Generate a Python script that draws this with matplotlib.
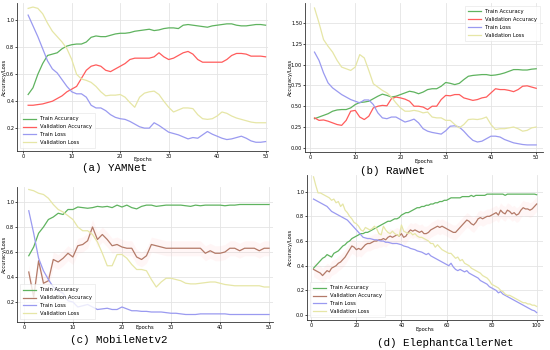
import matplotlib
matplotlib.use("Agg")
import matplotlib.pyplot as plt
import numpy as np

# ---- data ----
epochs50 = np.arange(1, 51)
epochs100 = np.arange(1, 101)

yam_train_acc = [0.45, 0.50, 0.60, 0.68, 0.74, 0.75, 0.76, 0.79, 0.81, 0.82,
                 0.825, 0.825, 0.84, 0.875, 0.885, 0.88, 0.88, 0.89, 0.90, 0.905,
                 0.905, 0.91, 0.92, 0.925, 0.93, 0.935, 0.925, 0.93, 0.94, 0.945,
                 0.945, 0.94, 0.965, 0.97, 0.965, 0.96, 0.955, 0.95, 0.96, 0.965,
                 0.97, 0.975, 0.975, 0.965, 0.96, 0.96, 0.965, 0.97, 0.97, 0.965]
yam_val_acc = [0.37, 0.37, 0.375, 0.38, 0.39, 0.40, 0.42, 0.44, 0.47, 0.49,
               0.51, 0.57, 0.63, 0.66, 0.67, 0.66, 0.63, 0.62, 0.64, 0.66,
               0.68, 0.71, 0.72, 0.72, 0.72, 0.72, 0.73, 0.76, 0.73, 0.71,
               0.72, 0.74, 0.76, 0.77, 0.75, 0.71, 0.69, 0.69, 0.69, 0.69,
               0.69, 0.71, 0.74, 0.755, 0.755, 0.75, 0.735, 0.735, 0.735, 0.73]
yam_train_loss = [1.04, 0.96, 0.88, 0.79, 0.70, 0.64, 0.61, 0.56, 0.51, 0.47,
                  0.455, 0.455, 0.43, 0.37, 0.35, 0.35, 0.33, 0.30, 0.28, 0.27,
                  0.265, 0.25, 0.23, 0.21, 0.20, 0.20, 0.24, 0.22, 0.195, 0.17,
                  0.16, 0.15, 0.135, 0.12, 0.13, 0.125, 0.15, 0.175, 0.155, 0.14,
                  0.125, 0.115, 0.12, 0.13, 0.14, 0.125, 0.105, 0.095, 0.095, 0.10]
yam_val_loss = [1.09, 1.10, 1.09, 1.05, 0.98, 0.92, 0.88, 0.84, 0.79, 0.71,
                0.60, 0.565, 0.555, 0.54, 0.51, 0.47, 0.44, 0.445, 0.445, 0.45,
                0.43, 0.39, 0.355, 0.43, 0.46, 0.47, 0.475, 0.45, 0.40, 0.355,
                0.32, 0.335, 0.35, 0.35, 0.345, 0.30, 0.27, 0.265, 0.27, 0.29,
                0.32, 0.31, 0.29, 0.275, 0.265, 0.255, 0.245, 0.24, 0.24, 0.24]

raw_train_acc = [0.35, 0.37, 0.39, 0.41, 0.44, 0.455, 0.46, 0.46, 0.48, 0.52,
                 0.545, 0.55, 0.56, 0.59, 0.62, 0.645, 0.63, 0.61, 0.62, 0.64,
                 0.66, 0.68, 0.67, 0.65, 0.67, 0.70, 0.71, 0.71, 0.74, 0.785,
                 0.775, 0.76, 0.775, 0.82, 0.86, 0.87, 0.875, 0.88, 0.88, 0.87,
                 0.875, 0.885, 0.90, 0.92, 0.94, 0.94, 0.935, 0.935, 0.945, 0.95]
raw_val_acc = [0.36, 0.33, 0.335, 0.32, 0.30, 0.28, 0.27, 0.33, 0.44, 0.45,
               0.37, 0.34, 0.38, 0.48, 0.50, 0.51, 0.505, 0.59, 0.61, 0.60,
               0.585, 0.56, 0.50, 0.50, 0.49, 0.46, 0.50, 0.50, 0.58, 0.63,
               0.625, 0.64, 0.64, 0.60, 0.585, 0.57, 0.58, 0.60, 0.61, 0.66,
               0.71, 0.70, 0.70, 0.69, 0.675, 0.70, 0.74, 0.745, 0.73, 0.715]
raw_train_loss = [1.15, 1.05, 0.90, 0.78, 0.72, 0.68, 0.64, 0.61, 0.58, 0.56,
                  0.54, 0.575, 0.575, 0.52, 0.42, 0.36, 0.35, 0.37, 0.37, 0.34,
                  0.31, 0.325, 0.345, 0.30, 0.23, 0.20, 0.185, 0.175, 0.165, 0.205,
                  0.26, 0.265, 0.25, 0.20, 0.14, 0.09, 0.07, 0.08, 0.11, 0.14,
                  0.14, 0.13, 0.10, 0.08, 0.06, 0.05, 0.04, 0.035, 0.035, 0.035]
raw_val_loss = [1.68, 1.50, 1.30, 1.22, 1.15, 1.05, 0.97, 0.95, 0.93, 0.97,
                1.12, 1.08, 0.93, 0.77, 0.73, 0.69, 0.66, 0.61, 0.54, 0.48,
                0.44, 0.44, 0.45, 0.44, 0.42, 0.43, 0.37, 0.36, 0.36, 0.33,
                0.33, 0.28, 0.24, 0.28, 0.34, 0.345, 0.34, 0.35, 0.37, 0.28,
                0.22, 0.23, 0.23, 0.24, 0.25, 0.23, 0.20, 0.21, 0.24, 0.25]

mob_train_acc = [0.57, 0.64, 0.75, 0.80, 0.86, 0.88, 0.91, 0.90, 0.94, 0.94,
                 0.96, 0.955, 0.95, 0.955, 0.965, 0.96, 0.965, 0.955, 0.975, 0.96,
                 0.975, 0.955, 0.945, 0.965, 0.975, 0.975, 0.965, 0.97, 0.975, 0.975,
                 0.975, 0.975, 0.97, 0.965, 0.975, 0.97, 0.975, 0.975, 0.975, 0.975,
                 0.97, 0.975, 0.975, 0.98, 0.98, 0.98, 0.98, 0.98, 0.98, 0.98]
mob_val_acc = [0.44, 0.24, 0.53, 0.35, 0.37, 0.54, 0.52, 0.55, 0.59, 0.56,
               0.65, 0.66, 0.69, 0.80, 0.70, 0.74, 0.70, 0.65, 0.66, 0.64,
               0.63, 0.63, 0.56, 0.54, 0.57, 0.66, 0.65, 0.64, 0.63, 0.63,
               0.63, 0.63, 0.63, 0.63, 0.63, 0.63, 0.59, 0.61, 0.59, 0.59,
               0.60, 0.63, 0.63, 0.61, 0.63, 0.63, 0.63, 0.61, 0.63, 0.63]
mob_train_loss = [0.93, 0.75, 0.55, 0.45, 0.38, 0.32, 0.29, 0.27, 0.21, 0.20,
                  0.16, 0.17, 0.18, 0.16, 0.14, 0.145, 0.15, 0.14, 0.14, 0.16,
                  0.145, 0.13, 0.13, 0.125, 0.125, 0.12, 0.12, 0.12, 0.115, 0.11,
                  0.11, 0.105, 0.10, 0.10, 0.10, 0.105, 0.105, 0.105, 0.105, 0.105,
                  0.105, 0.10, 0.10, 0.10, 0.10, 0.10, 0.10, 0.10, 0.10, 0.10]
mob_val_loss = [1.10, 1.09, 1.07, 1.06, 1.03, 0.98, 0.94, 0.92, 0.89, 0.86,
                0.80, 0.77, 0.77, 0.74, 0.68, 0.59, 0.49, 0.49, 0.58, 0.58,
                0.55, 0.50, 0.46, 0.46, 0.45, 0.38, 0.32, 0.36, 0.39, 0.39,
                0.38, 0.37, 0.35, 0.345, 0.345, 0.35, 0.355, 0.36, 0.36, 0.35,
                0.34, 0.335, 0.33, 0.33, 0.33, 0.33, 0.33, 0.33, 0.32, 0.32]

ele_train_acc = [0.38, 0.40, 0.42, 0.44, 0.46, 0.47, 0.49, 0.48, 0.47, 0.50,
                 0.51, 0.52, 0.54, 0.56, 0.57, 0.59, 0.60, 0.62, 0.63, 0.64,
                 0.65, 0.66, 0.66, 0.67, 0.67, 0.68, 0.69, 0.70, 0.71, 0.72,
                 0.73, 0.74, 0.75, 0.76, 0.76, 0.77, 0.78, 0.78, 0.79, 0.81,
                 0.82, 0.83, 0.83, 0.84, 0.85, 0.86, 0.87, 0.87, 0.88, 0.88,
                 0.89, 0.89, 0.90, 0.90, 0.91, 0.91, 0.92, 0.92, 0.93, 0.93,
                 0.94, 0.95, 0.95, 0.95, 0.95, 0.95, 0.96, 0.96, 0.96, 0.96,
                 0.97, 0.96, 0.97, 0.97, 0.97, 0.97, 0.97, 0.98, 0.98, 0.98,
                 0.98, 0.98, 0.98, 0.98, 0.98, 0.97, 0.98, 0.98, 0.98, 0.98,
                 0.98, 0.98, 0.98, 0.98, 0.98, 0.98, 0.98, 0.98, 0.98, 0.975]
ele_val_acc = [0.37, 0.36, 0.35, 0.34, 0.32, 0.34, 0.36, 0.35, 0.38, 0.39,
               0.40, 0.42, 0.43, 0.45, 0.47, 0.50, 0.53, 0.56, 0.55, 0.53,
               0.54, 0.53, 0.55, 0.57, 0.58, 0.58, 0.59, 0.60, 0.60, 0.61,
               0.61, 0.62, 0.61, 0.63, 0.64, 0.63, 0.64, 0.65, 0.64, 0.66,
               0.63, 0.64, 0.67, 0.69, 0.68, 0.69, 0.68, 0.67, 0.68, 0.66,
               0.66, 0.67, 0.69, 0.70, 0.71, 0.72, 0.71, 0.72, 0.71, 0.70,
               0.69, 0.68, 0.67, 0.67, 0.69, 0.71, 0.73, 0.75, 0.77, 0.76,
               0.74, 0.73, 0.75, 0.78, 0.79, 0.78, 0.79, 0.80, 0.80, 0.81,
               0.82, 0.83, 0.81, 0.85, 0.83, 0.82, 0.85, 0.84, 0.82, 0.83,
               0.81, 0.82, 0.85, 0.87, 0.86, 0.86, 0.85, 0.86, 0.88, 0.90]
ele_train_loss = [0.94, 0.93, 0.92, 0.91, 0.90, 0.89, 0.88, 0.86, 0.84, 0.83,
                  0.82, 0.81, 0.80, 0.79, 0.78, 0.77, 0.75, 0.73, 0.71, 0.69,
                  0.67, 0.65, 0.63, 0.625, 0.62, 0.62, 0.615, 0.61, 0.61, 0.605,
                  0.60, 0.60, 0.59, 0.59, 0.585, 0.58, 0.58, 0.58, 0.575, 0.57,
                  0.56, 0.555, 0.55, 0.54, 0.535, 0.53, 0.52, 0.515, 0.51, 0.50,
                  0.49, 0.50, 0.48, 0.47, 0.46, 0.45, 0.44, 0.43, 0.42, 0.41,
                  0.40, 0.42, 0.39, 0.37, 0.36, 0.37, 0.36, 0.35, 0.36, 0.34,
                  0.33, 0.32, 0.31, 0.30, 0.28, 0.27, 0.26, 0.25, 0.23, 0.22,
                  0.21, 0.20, 0.18, 0.19, 0.17, 0.16, 0.15, 0.14, 0.13, 0.12,
                  0.11, 0.10, 0.09, 0.08, 0.07, 0.06, 0.05, 0.04, 0.035, 0.02]
ele_val_loss = [1.12, 1.05, 0.99, 0.99, 0.98, 0.97, 0.96, 0.95, 0.93, 0.94,
                0.91, 0.92, 0.88, 0.90, 0.85, 0.83, 0.80, 0.78, 0.75, 0.74,
                0.72, 0.69, 0.68, 0.71, 0.70, 0.69, 0.70, 0.72, 0.70, 0.66,
                0.65, 0.72, 0.69, 0.67, 0.66, 0.68, 0.66, 0.65, 0.64, 0.73,
                0.68, 0.67, 0.66, 0.67, 0.65, 0.66, 0.64, 0.63, 0.63, 0.62,
                0.61, 0.60, 0.58, 0.58, 0.55, 0.57, 0.55, 0.53, 0.52, 0.51,
                0.50, 0.50, 0.48, 0.46, 0.47, 0.44, 0.45, 0.42, 0.41, 0.40,
                0.38, 0.37, 0.36, 0.35, 0.34, 0.32, 0.31, 0.30, 0.28, 0.25,
                0.24, 0.23, 0.22, 0.20, 0.19, 0.17, 0.16, 0.16, 0.15, 0.14,
                0.13, 0.12, 0.11, 0.10, 0.10, 0.09, 0.09, 0.08, 0.08, 0.07]

labels = ["Train Accuracy", "Validation Accuracy", "Train Loss", "Validation Loss"]

W, H = 550, 350
fig = plt.figure(figsize=(5.5, 3.5), dpi=100)

def px_axes(l, t, r, b):
    return fig.add_axes([l / W, 1 - b / H, (r - l) / W, (b - t) / H])

def panel(box, x, series, colors, xlim, ylim, yticks, xticks, legend_loc,
          caption, cap_xy, xlab_y, ylab_x):
    l, t, r, b = box
    ax = px_axes(*box)
    for s, c, lab in zip(series, colors, labels):
        ax.plot(x, s, color=c, lw=0.9, label=lab)
    ax.set_xlim(*xlim)
    ax.set_ylim(*ylim)
    ax.set_yticks(yticks)
    ax.set_xticks(xticks)
    ax.grid(True, color="#e4e4e4", lw=0.6)
    ax.set_axisbelow(True)
    for side in ["top", "right"]:
        ax.spines[side].set_visible(False)
    for side in ["left", "bottom"]:
        ax.spines[side].set_color("#333333")
        ax.spines[side].set_linewidth(0.6)
    ax.tick_params(labelsize=3.6, length=1.2, width=0.5, pad=0.8)
    ax.set_xlabel("Epochs", fontsize=3.8, va="center")
    ax.set_ylabel("Accuracy/Loss", fontsize=3.8, va="center")
    # place axis labels at the pixel spots seen in the figure
    ax.xaxis.set_label_coords(0.5, -(xlab_y - b) / (b - t))
    ax.yaxis.set_label_coords(-(l - ylab_x) / (r - l), 0.5)
    leg = ax.legend(loc=legend_loc, fontsize=3.8, handlelength=2.5,
                    labelspacing=0.55, borderpad=0.6, frameon=True, fancybox=False)
    leg.get_frame().set_linewidth(0.4)
    leg.get_frame().set_edgecolor("#dddddd")
    fig.text(cap_xy[0] / W, 1 - cap_xy[1] / H, caption, family="Liberation Mono",
             fontsize=7.8, ha="center", va="center")
    return ax

c_green = "#5fb35f"
c_red = "#ff5c5c"
c_blue = "#9a9af0"
c_yellow = "#e6e6a6"
c_brown = "#b37a68"

panel((17, 3, 268, 151), epochs50,
      [yam_train_acc, yam_val_acc, yam_train_loss, yam_val_loss],
      [c_green, c_red, c_blue, c_yellow],
      (-1.3, 50.5), (0.03, 1.13), [0.2, 0.4, 0.6, 0.8, 1.0], [0, 10, 20, 30, 40, 50],
      "lower left", "(a) YAMNet", (115, 168), 159, 4)

panel((305, 3, 543, 152), epochs50,
      [raw_train_acc, raw_val_acc, raw_train_loss, raw_val_loss],
      [c_green, c_red, c_blue, c_yellow],
      (-1.1, 51.5), (-0.05, 1.74), [0.0, 0.25, 0.5, 0.75, 1.0, 1.25, 1.5], [0, 10, 20, 30, 40, 50],
      "upper right", "(b) RawNet", (393, 171), 162, 290)

ax_c = panel((17, 187, 273, 322), epochs50,
             [mob_train_acc, mob_val_acc, mob_train_loss, mob_val_loss],
             [c_green, c_brown, c_blue, c_yellow],
             (-1.4, 50.8), (0.04, 1.12), [0.2, 0.4, 0.6, 0.8, 1.0], [0, 10, 20, 30, 40, 50],
             "lower left", "(c) MobileNetv2", (119, 340), 328, 4)
ax_c.fill_between(epochs50, np.array(mob_val_acc) - 0.06, np.array(mob_val_acc) + 0.06,
                  color="#ffb0b0", alpha=0.1, lw=0)

ax_d = panel((307, 175, 543, 320), epochs100,
             [ele_train_acc, ele_val_acc, ele_train_loss, ele_val_loss],
             [c_green, c_brown, c_blue, c_yellow],
             (-1.9, 102.8), (-0.04, 1.135), [0.0, 0.2, 0.4, 0.6, 0.8, 1.0], [0, 20, 40, 60, 80, 100],
             "lower left", "(d) ElephantCallerNet", (445, 343), 329, 290)
ax_d.fill_between(epochs100, np.array(ele_val_acc) - 0.06, np.array(ele_val_acc) + 0.06,
                  color="#ffb0b0", alpha=0.1, lw=0)

fig.savefig("out.png", dpi=100)
